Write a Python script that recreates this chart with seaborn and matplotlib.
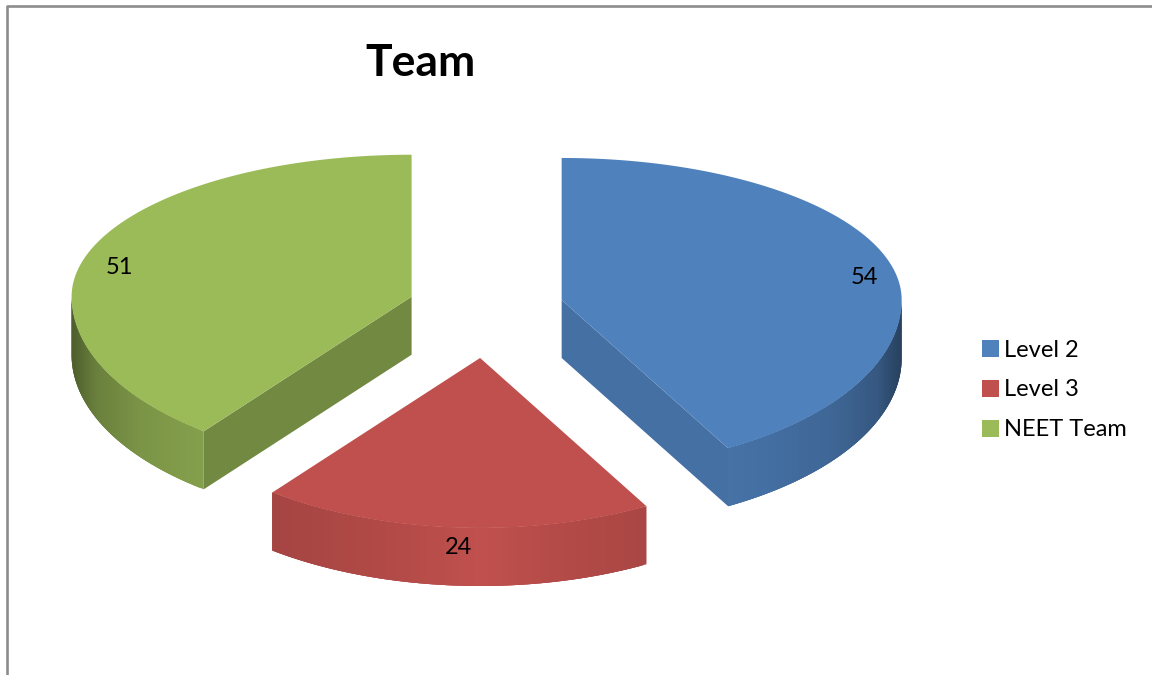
import numpy as np
import matplotlib
matplotlib.use('Agg')
import matplotlib.pyplot as plt
from matplotlib.patches import Patch
import seaborn as sns

# data
teams = ['Level 2', 'Level 3', 'NEET Team']
counts = [54, 24, 51]
base_colors = ['#4F81BD', '#C0504D', '#9BBB59']
cut_shade = [0.87, 1.0, 0.73]
label_xy = [(864, 278), (458, 547), (119, 267)]

# pseudo 3D geometry, in pixels
cx, cy = 485.8, 311.7
rx, ry_back, ry_front = 340, 142, 170
depth = 58
explode_x, explode_y = 78.4, 46.4

sns.set_theme(style='white')
plt.rcParams['font.family'] = ['Lato', 'DejaVu Sans']
palette = sns.color_palette(base_colors)


def rim(theta, x0, y0):
    # theta in degrees, clockwise from the top of the pie
    t = np.radians(theta)
    c = np.cos(t)
    ry = np.where(c >= 0, ry_back, ry_front)
    return x0 + rx * np.sin(t), y0 - ry * c


def side_shade(theta):
    s = abs(np.sin(np.radians(theta)))
    return np.interp(s, [0, 0.25, 0.6, 0.8, 0.93, 1.0],
                     [1.0, 0.93, 0.86, 0.79, 0.68, 0.5])


def darker(color, k):
    return tuple(np.array(color) * k)


fig = plt.figure(figsize=(11.52, 6.75), dpi=100)
ax = fig.add_axes([0, 0, 1, 1])
ax.set_xlim(0, 1152)
ax.set_ylim(675, 0)
ax.axis('off')

# chart frame, only top and left show in the crop
ax.plot([7, 7, 1152], [675, 6, 6], color='#8c8c8c', lw=1.9, solid_capstyle='butt')

edges = np.cumsum([0] + counts) / sum(counts) * 360

for i, team in enumerate(teams):
    start, end = edges[i], edges[i + 1]
    mid = (start + end) / 2
    x0 = cx + explode_x * np.sin(np.radians(mid))
    y0 = cy - explode_y * np.cos(np.radians(mid))
    color = palette[i]

    # flat cut faces that look toward the viewer
    for edge, show in [(end, 90 < end < 180), (start, 180 < start < 270)]:
        if show:
            ex, ey = rim(edge, x0, y0)
            ax.fill([x0, ex, ex, x0], [y0, ey, ey + depth, y0 + depth],
                    color=darker(color, cut_shade[i]), lw=0, zorder=2)

    # outer rim, thin strips that overlap the next one so no seams show
    low, high = max(start, 90), min(end, 270)
    steps = int((high - low) * 2) + 1
    grid = np.linspace(low, high, steps + 1)
    for a, b in zip(grid[:-1], grid[1:]):
        over = min(b + 1.0, high)
        arc = np.linspace(a, over, 6)
        xs, ys = rim(arc, x0, y0)
        ax.fill(np.r_[xs, xs[::-1]], np.r_[ys, ys[::-1] + depth],
                color=darker(color, side_shade((a + b) / 2)), lw=0, zorder=2)

    # top face
    theta = np.linspace(start, end, 300)
    xs, ys = rim(theta, x0, y0)
    ax.fill(np.r_[x0, xs], np.r_[y0, ys], color=color, lw=0, zorder=3)

    ax.text(label_xy[i][0], label_xy[i][1], str(counts[i]), fontsize=17,
            color='black', ha='center', va='center', zorder=4)

ax.text(420, 63, 'Team', fontsize=32, fontweight='bold', color='black',
        ha='center', va='center')

handles = [Patch(facecolor=palette[i], edgecolor='none', label=teams[i])
           for i in range(len(teams))]
ax.legend(handles=handles, loc='center left', bbox_to_anchor=(982, 390),
          bbox_transform=ax.transData, frameon=False, fontsize=17,
          labelcolor='black', handlelength=0.73, handleheight=0.73,
          handletextpad=0.22, labelspacing=0.8, borderpad=0, borderaxespad=0)

plt.savefig('out.png', dpi=100)
